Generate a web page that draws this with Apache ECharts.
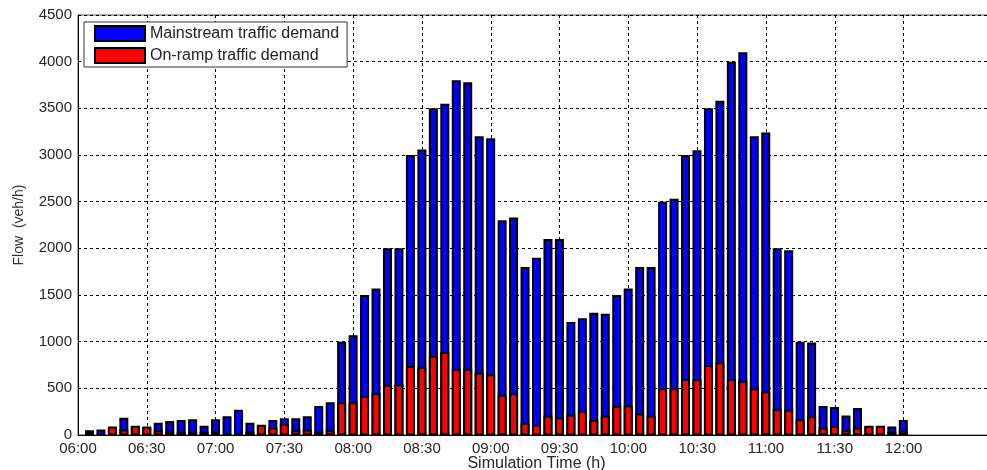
<!DOCTYPE html>
<html>
<head>
<meta charset="utf-8">
<script src="https://cdn.jsdelivr.net/npm/echarts@6/dist/echarts.min.js"></script>
<style>
html, body { margin: 0; padding: 0; background: #fff; }
#main { width: 987px; height: 470px; }
</style>
</head>
<body>
<div id="main"></div>
<script>
// 5-minute sample times
var times = [
    '06:05', '06:10', '06:15', '06:20', '06:25', '06:30', '06:35', '06:40', '06:45', '06:50', '06:55',
    '07:00', '07:05', '07:10', '07:15', '07:20', '07:25', '07:30', '07:35', '07:40', '07:45', '07:50', '07:55',
    '08:00', '08:05', '08:10', '08:15', '08:20', '08:25', '08:30', '08:35', '08:40', '08:45', '08:50', '08:55',
    '09:00', '09:05', '09:10', '09:15', '09:20', '09:25', '09:30', '09:35', '09:40', '09:45', '09:50', '09:55',
    '10:00', '10:05', '10:10', '10:15', '10:20', '10:25', '10:30', '10:35', '10:40', '10:45', '10:50', '10:55',
    '11:00', '11:05', '11:10', '11:15', '11:20', '11:25', '11:30', '11:35', '11:40', '11:45', '11:50', '11:55',
    '12:00'
];

var mainstream = [
    50, 60, 80, 185, 90, 80, 130, 150, 160, 170, 100,
    170, 200, 270, 130, 100, 160, 180, 180, 200, 310, 350, 1000,
    1070, 1500, 1570, 2000, 2000, 3000, 3060, 3500, 3550, 3800, 3780, 3200,
    3180, 2300, 2330, 1800, 1900, 2100, 2100, 1210, 1250, 1310, 1300, 1500,
    1570, 1800, 1800, 2500, 2530, 3000, 3050, 3500, 3580, 4000, 4100, 3200,
    3240, 2000, 1980, 1000, 990, 310, 300, 210, 290, 90, 90, 90,
    160
];

var onramp = [
    30, 20, 90, 60, 100, 90, 50, 40, 30, 30, 30,
    30, 20, 20, 40, 110, 80, 120, 50, 60, 40, 50, 350,
    350, 420, 450, 540, 540, 740, 730, 850, 890, 710, 710, 670,
    650, 430, 450, 130, 110, 210, 190, 220, 260, 160, 210, 310,
    320, 230, 210, 500, 500, 600, 600, 750, 780, 600, 580, 500,
    470, 280, 270, 170, 200, 80, 100, 50, 80, 100, 100, 40,
    45
];

var tickLabels = ['06:00', '06:30', '07:00', '07:30', '08:00', '08:30', '09:00',
    '09:30', '10:00', '10:30', '11:00', '11:30', '12:00'];

// minutes after 06:00
function toMinutes(t) {
    var p = t.split(':');
    return (parseInt(p[0], 10) - 6) * 60 + parseInt(p[1], 10);
}

function pairs(values) {
    return times.map(function (t, i) {
        return [toMinutes(t), values[i]];
    });
}

var font = '"Liberation Sans", Arial, sans-serif';
var textColor = '#262626';

var myChart = echarts.init(document.getElementById('main'));

var option = {
    backgroundColor: '#fff',
    animation: false,
    legend: {
        data: ['Mainstream traffic demand', 'On-ramp traffic demand'],
        orient: 'vertical',
        left: 84,
        top: 22,
        icon: 'rect',
        itemWidth: 50,
        itemHeight: 15,
        itemGap: 5,
        padding: [3, 8, 3, 10],
        borderColor: '#333',
        borderWidth: 1,
        backgroundColor: '#fff',
        textStyle: { fontFamily: font, fontSize: 16, color: '#222' }
    },
    grid: [{
        left: 78,
        top: 15,
        width: 917,
        height: 420,
        outerBoundsMode: 'none',
        show: true,
        borderColor: '#555',
        borderWidth: 1
    }, {
        left: 78,
        top: 15,
        width: 825.6,
        height: 420,
        outerBoundsMode: 'none'
    }],
    xAxis: [{
        gridIndex: 0,
        type: 'value',
        min: 0,
        max: 400,
        name: 'Simulation Time (h)',
        nameLocation: 'middle',
        nameGap: 21,
        nameTextStyle: { fontFamily: font, fontSize: 16, color: textColor },
        axisLine: { lineStyle: { color: '#000', width: 1 } },
        axisTick: { show: false },
        axisLabel: { show: false },
        splitLine: { show: false }
    }, {
        gridIndex: 1,
        type: 'value',
        min: 0,
        max: 360,
        interval: 30,
        axisLine: { show: false },
        axisTick: { show: false },
        axisLabel: {
            margin: 6,
            fontFamily: font,
            fontSize: 15,
            color: textColor,
            formatter: function (v) { return tickLabels[Math.round(v / 30)]; }
        },
        splitLine: { lineStyle: { color: '#000', type: [3, 3], width: 1 } }
    }],
    yAxis: [{
        gridIndex: 0,
        type: 'value',
        min: 0,
        max: 4500,
        interval: 500,
        name: 'Flow  (veh/h)',
        nameLocation: 'middle',
        nameGap: 52,
        nameTextStyle: { fontFamily: font, fontSize: 14, color: '#333' },
        axisLine: { show: true, lineStyle: { color: '#000', width: 1 } },
        axisTick: { show: false },
        axisLabel: {
            margin: 6,
            fontFamily: font,
            fontSize: 15,
            color: textColor,
            formatter: function (v) { return String(v); }
        },
        splitLine: { lineStyle: { color: '#000', type: [3, 3], width: 1 } }
    }, {
        gridIndex: 1,
        type: 'value',
        min: 0,
        max: 4500,
        show: false
    }],
    series: [{
        name: 'Mainstream traffic demand',
        type: 'bar',
        xAxisIndex: 0,
        yAxisIndex: 0,
        barWidth: 9,
        barGap: '-100%',
        itemStyle: { color: '#0000ff', borderColor: '#000', borderWidth: 2 },
        data: pairs(mainstream)
    }, {
        name: 'On-ramp traffic demand',
        type: 'bar',
        xAxisIndex: 0,
        yAxisIndex: 0,
        barWidth: 9,
        barGap: '-100%',
        itemStyle: { color: '#ff0000', borderColor: '#000', borderWidth: 2 },
        data: pairs(onramp)
    }]
};

myChart.setOption(option);
</script>
</body>
</html>
